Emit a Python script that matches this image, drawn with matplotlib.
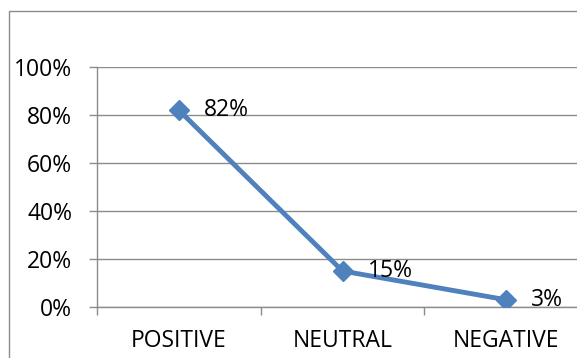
import matplotlib.pyplot as plt
from matplotlib.patches import Rectangle
from matplotlib.ticker import PercentFormatter

categories = ['POSITIVE', 'NEUTRAL', 'NEGATIVE']
values = [82, 15, 3]
y_ticks = [0, 20, 40, 60, 80, 100]

plt.rcParams['font.family'] = ['Open Sans', 'DejaVu Sans']

fig = plt.figure(figsize=(5.77, 3.58), dpi=100)
# plot area runs past the right edge of the picture, as in the reference crop
ax = fig.add_axes([97/577, 51/358, 491/577, 240/358])

# outer chart frame (only left and top edges visible)
fig.patches.append(Rectangle((9/577, -0.1), 1.2, (358 - 11)/358 + 0.1,
                             transform=fig.transFigure, fill=False,
                             edgecolor='#8c8c8c', linewidth=1.0))

x = range(len(categories))
ax.plot(x, values, color='#4F81BD', linewidth=3.5, marker='D',
        markersize=10, zorder=3)
for xi, v in zip(x, values):
    ax.annotate(f'{v}%', (xi, v), xytext=(18, 0), textcoords='offset points',
                va='center', ha='left', fontsize=16.5, color='black')

ax.set_xlim(-0.5, 2.5)
ax.set_ylim(0, 100)
ax.set_yticks(y_ticks)
ax.yaxis.set_major_formatter(PercentFormatter(decimals=0))
ax.grid(axis='y', color='#8c8c8c', linewidth=1.0)
ax.set_axisbelow(True)

ax.set_xticks(list(x))
ax.set_xticklabels(categories)
ax.set_xticks([-0.5, 0.5, 1.5, 2.5], minor=True)
ax.tick_params(axis='x', which='major', length=0, pad=16, labelsize=16.5)
ax.tick_params(axis='x', which='minor', length=6, color='#8c8c8c', width=1)
ax.tick_params(axis='y', length=6, color='#8c8c8c', width=1, pad=12,
               labelsize=16.5)

for side in ['top', 'right']:
    ax.spines[side].set_visible(False)
for side in ['left', 'bottom']:
    ax.spines[side].set_color('#8c8c8c')
    ax.spines[side].set_linewidth(1.0)

fig.savefig('out.png', dpi=100)
